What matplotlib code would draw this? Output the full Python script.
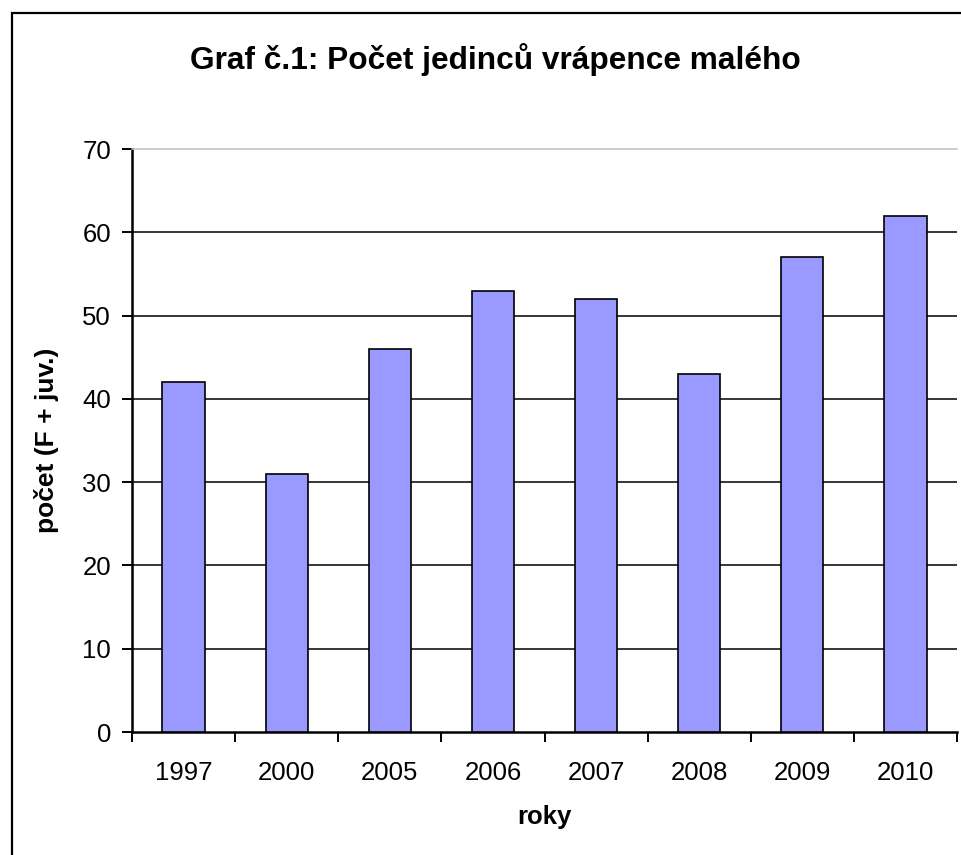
import matplotlib
matplotlib.use("Agg")
import matplotlib.pyplot as plt
from matplotlib.patches import Rectangle
import numpy as np

plt.rcParams["font.family"] = ["Liberation Sans", "DejaVu Sans"]

years = ["1997", "2000", "2005", "2006", "2007", "2008", "2009", "2010"]
counts = [42, 31, 46, 53, 52, 43, 57, 62]
y_ticks = [0, 10, 20, 30, 40, 50, 60, 70]

fig = plt.figure(figsize=(9.62, 8.55), dpi=100)
fig.patch.set_facecolor("white")

# outer chart frame (cut off right and bottom as in the source)
fig.patches.append(Rectangle((12 / 962, -0.05), 1.2, 1 - 13 / 855 + 0.05,
                             transform=fig.transFigure, fill=False,
                             edgecolor="black", linewidth=1.6, zorder=0))

ax = fig.add_axes([132 / 962, 1 - 732 / 855, (957 - 132) / 962, (732 - 149) / 855])
x = np.arange(len(years))
ax.bar(x, counts, width=0.41, color="#9999FF", edgecolor="black",
       linewidth=1.2, zorder=3)

ax.set_xlim(-0.5, len(years) - 0.5)
ax.set_ylim(0, 70)

# gridlines (black), top border light gray
for t in y_ticks[1:-1]:
    ax.axhline(t, color="black", linewidth=1.1, zorder=1)

ax.spines["right"].set_visible(False)
ax.spines["top"].set_color("#C0C0C0")
ax.spines["top"].set_linewidth(1.1)
ax.spines["left"].set_linewidth(1.8)
ax.spines["bottom"].set_linewidth(1.8)

ax.set_yticks(y_ticks)
ax.tick_params(axis="y", direction="out", length=7, width=1.4,
               labelsize=18.5, pad=8)

ax.set_xticks(x)
ax.set_xticklabels(years)
ax.set_xticks(np.arange(len(years) + 1) - 0.5, minor=True)
ax.tick_params(axis="x", which="major", length=0, labelsize=18.5, pad=21)
ax.tick_params(axis="x", which="minor", direction="out", length=7, width=1.4)

ax.set_xlabel("roky", fontsize=18.5, fontweight="bold", labelpad=14)
ax.set_ylabel("počet (F + juv.)", fontsize=19, fontweight="bold", labelpad=17)

fig.text(495 / 962, 1 - 60 / 855, "Graf č.1: Počet jedinců vrápence malého",
         ha="center", va="center", fontsize=22.8, fontweight="bold")

fig.savefig("out.png", dpi=100, facecolor="white")
